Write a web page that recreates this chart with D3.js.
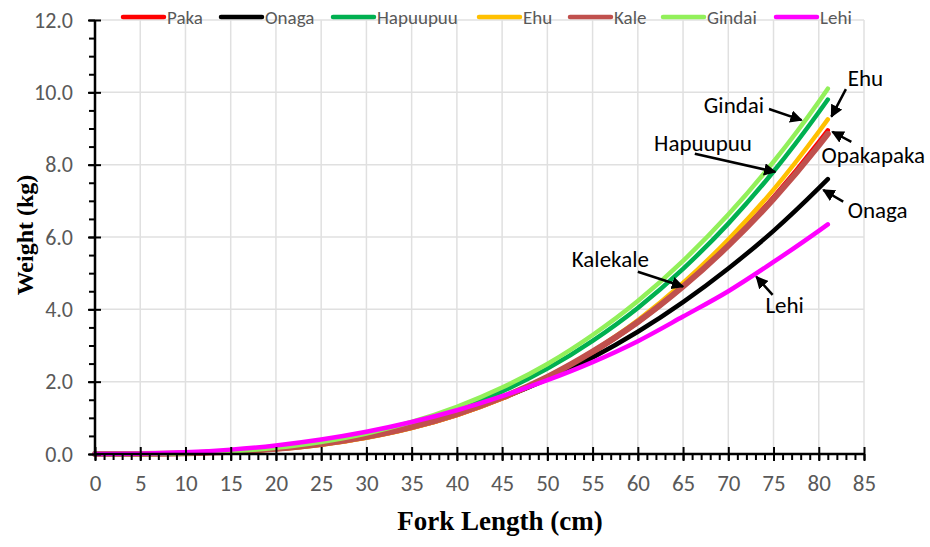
<!DOCTYPE html>
<html>
<head>
<meta charset="utf-8">
<script src="https://cdn.jsdelivr.net/npm/d3@7"></script>
<style>
body { margin: 0; background: #fff; }
text { font-family: Carlito, Calibri, "Liberation Sans", sans-serif; }
</style>
</head>
<body>
<svg id="chart" width="930" height="547"></svg>
<script>
// fork length (cm) and weight (kg)
var lengths  = [0, 5, 10, 15, 20, 25, 30, 35, 40, 45, 50, 55, 60, 65, 70, 75, 80, 81];
var paka     = [0, 0.002, 0.017, 0.057, 0.135, 0.263, 0.455, 0.722, 1.078, 1.534, 2.10, 2.80, 3.64, 4.63, 5.78, 7.10, 8.62, 8.95];
var onaga    = [0, 0.004, 0.027, 0.080, 0.174, 0.318, 0.520, 0.789, 1.131, 1.554, 2.07, 2.67, 3.38, 4.20, 5.13, 6.17, 7.35, 7.60];
var hapuupuu = [0, 0.003, 0.020, 0.068, 0.158, 0.305, 0.523, 0.824, 1.222, 1.731, 2.36, 3.13, 4.04, 5.12, 6.37, 7.81, 9.45, 9.80];
var ehu      = [0, 0.002, 0.016, 0.054, 0.130, 0.256, 0.447, 0.715, 1.075, 1.540, 2.12, 2.84, 3.70, 4.73, 5.93, 7.31, 8.91, 9.25];
var kale     = [0, 0.002, 0.018, 0.061, 0.143, 0.276, 0.473, 0.744, 1.104, 1.563, 2.13, 2.83, 3.65, 4.63, 5.76, 7.05, 8.53, 8.85];
var gindai   = [0, 0.003, 0.023, 0.076, 0.175, 0.334, 0.567, 0.886, 1.305, 1.837, 2.49, 3.29, 4.23, 5.34, 6.62, 8.08, 9.74, 10.10];
var lehi     = [0, 0.009, 0.047, 0.121, 0.237, 0.401, 0.615, 0.884, 1.21, 1.60, 2.04, 2.54, 3.12, 3.80, 4.50, 5.31, 6.17, 6.35];

var seriesNames = ['Paka', 'Onaga', 'Hapuupuu', 'Ehu', 'Kale', 'Gindai', 'Lehi'];
var seriesValues = [paka, onaga, hapuupuu, ehu, kale, gindai, lehi];
var seriesColors = ['#ff0000', '#000000', '#00b050', '#ffc000', '#c0504d', '#92f05a', '#ff00ff'];

var xTicks = d3.range(0, 86, 5);
var yTicks = [0, 2, 4, 6, 8, 10, 12];

// legend item offsets (px from first item)
var legendOffsets = [0, 98, 210, 356, 447, 540, 653];

// callouts: label text, label anchor, arrow tail and tip, all in data units
var callouts = [
    { text: 'Gindai',    lx: 67.3, ly: 9.65, tx: 74.5, ty: 9.54, hx: 78.1, hy: 9.23 },
    { text: 'Ehu',       lx: 83.2, ly: 10.4, tx: 83.0, ty: 10.09, hx: 81.4, hy: 9.33 },
    { text: 'Opakapaka', lx: 80.3, ly: 8.28, tx: 83.6, ty: 8.63, hx: 81.5, hy: 8.91 },
    { text: 'Hapuupuu',  lx: 61.8, ly: 8.60, tx: 66.3, ty: 8.30, hx: 75.2, hy: 7.80 },
    { text: 'Onaga',     lx: 83.2, ly: 6.75, tx: 82.7, ty: 6.98, hx: 80.5, hy: 7.30 },
    { text: 'Kalekale',  lx: 52.7, ly: 5.39, tx: 60.0, ty: 5.04, hx: 65.0, hy: 4.63 },
    { text: 'Lehi',      lx: 74.1, ly: 4.12, tx: 74.9, ty: 4.40, hx: 73.1, hy: 4.90 }
];

var svg = d3.select('#chart');

var x = d3.scaleLinear().domain([0, 85]).range([95, 864]);
var y = d3.scaleLinear().domain([0, 12]).range([454, 20]);

// grid
var grid = svg.append('g');
grid.selectAll('.vgrid').data(xTicks.slice(1)).enter().append('line')
    .attr('x1', function(d) { return x(d); })
    .attr('x2', function(d) { return x(d); })
    .attr('y1', y(0)).attr('y2', y(12))
    .attr('stroke', '#e0e0e0').attr('stroke-width', 1.5);
grid.selectAll('.hgrid').data(yTicks.slice(1)).enter().append('line')
    .attr('x1', x(0)).attr('x2', x(85))
    .attr('y1', function(d) { return y(d); })
    .attr('y2', function(d) { return y(d); })
    .attr('stroke', '#e0e0e0').attr('stroke-width', 1.5);

// curves
var line = d3.line()
    .x(function(d) { return x(d[0]); })
    .y(function(d) { return y(d[1]); })
    .curve(d3.curveMonotoneX);

seriesValues.forEach(function(vals, i) {
    var pts = lengths.map(function(l, j) { return [l, vals[j]]; });
    svg.append('path')
        .attr('d', line(pts))
        .attr('fill', 'none')
        .attr('stroke', seriesColors[i])
        .attr('stroke-width', seriesNames[i] === 'Kale' ? 6 : 4.5)
        .attr('stroke-linecap', 'round')
        .attr('stroke-linejoin', 'round');
});

// y axis: minor ticks left, major ticks crossing
var yMinor = svg.append('g').attr('transform', 'translate(' + x(0) + ',0)')
    .call(d3.axisLeft(y).tickValues(d3.range(0, 12.01, 0.5)).tickSize(6).tickFormat(''));
var yMajor = svg.append('g').attr('transform', 'translate(' + x(0) + ',0)')
    .call(d3.axisLeft(y).tickValues(yTicks).tickSize(6).tickPadding(16).tickFormat(d3.format('.1f')));
yMajor.selectAll('.tick line').attr('x1', 6).attr('x2', -7);
[yMinor, yMajor].forEach(function(g) {
    g.select('.domain').remove();
    g.selectAll('.tick line').attr('stroke', '#000').attr('stroke-width', 2);
});
yMajor.selectAll('.tick text').attr('fill', '#595959').style('font-size', '22px');

// x axis
var xMinor = svg.append('g').attr('transform', 'translate(0,' + y(0) + ')')
    .call(d3.axisBottom(x).tickValues(d3.range(0, 86, 1)).tickSize(6).tickFormat(''));
var xMajor = svg.append('g').attr('transform', 'translate(0,' + y(0) + ')')
    .call(d3.axisBottom(x).tickValues(xTicks).tickSize(7).tickPadding(14));
xMajor.selectAll('.tick line').attr('y1', -7).attr('y2', 7);
[xMinor, xMajor].forEach(function(g) {
    g.select('.domain').remove();
    g.selectAll('.tick line').attr('stroke', '#000').attr('stroke-width', 2);
});
xMajor.selectAll('.tick text').attr('fill', '#595959').style('font-size', '23px');

svg.append('line').attr('x1', x(0)).attr('x2', x(0)).attr('y1', y(0) + 1).attr('y2', y(12))
    .attr('stroke', '#000').attr('stroke-width', 2.5);
svg.append('line').attr('x1', x(0) - 1).attr('x2', x(85)).attr('y1', y(0)).attr('y2', y(0))
    .attr('stroke', '#000').attr('stroke-width', 2.5);

// axis titles
svg.append('text')
    .attr('x', 500).attr('y', 530)
    .attr('text-anchor', 'middle')
    .style('font-family', '"Liberation Serif", "DejaVu Serif", serif')
    .style('font-weight', 'bold').style('font-size', '27px')
    .text('Fork Length (cm)');
svg.append('text')
    .attr('transform', 'translate(33,235) rotate(-90)')
    .attr('text-anchor', 'middle')
    .style('font-family', '"Liberation Serif", "DejaVu Serif", serif')
    .style('font-weight', 'bold').style('font-size', '24px')
    .text('Weight (kg)');

// legend
var legend = svg.append('g').attr('transform', 'translate(123,17)');
seriesNames.forEach(function(name, i) {
    var item = legend.append('g').attr('transform', 'translate(' + legendOffsets[i] + ',0)');
    item.append('line').attr('x1', 0).attr('x2', 41).attr('y1', 0).attr('y2', 0)
        .attr('stroke', seriesColors[i]).attr('stroke-width', 4.5).attr('stroke-linecap', 'round');
    item.append('text').attr('x', 44).attr('dy', '0.35em')
        .attr('fill', '#595959').style('font-size', '19px').text(name);
});

// callouts
svg.append('defs').append('marker')
    .attr('id', 'head').attr('viewBox', '0 0 10 10')
    .attr('refX', 9).attr('refY', 5)
    .attr('markerWidth', 5).attr('markerHeight', 5)
    .attr('orient', 'auto')
    .append('path').attr('d', 'M0,0L10,5L0,10z').attr('fill', '#000');

var notes = svg.append('g');
callouts.forEach(function(c) {
    notes.append('line')
        .attr('x1', x(c.tx)).attr('y1', y(c.ty))
        .attr('x2', x(c.hx)).attr('y2', y(c.hy))
        .attr('stroke', '#000').attr('stroke-width', 2.5)
        .attr('marker-end', 'url(#head)');
    notes.append('text')
        .attr('x', x(c.lx)).attr('y', y(c.ly)).attr('dy', '0.35em')
        .attr('fill', '#000').style('font-size', '23px')
        .text(c.text);
});
</script>
</body>
</html>
